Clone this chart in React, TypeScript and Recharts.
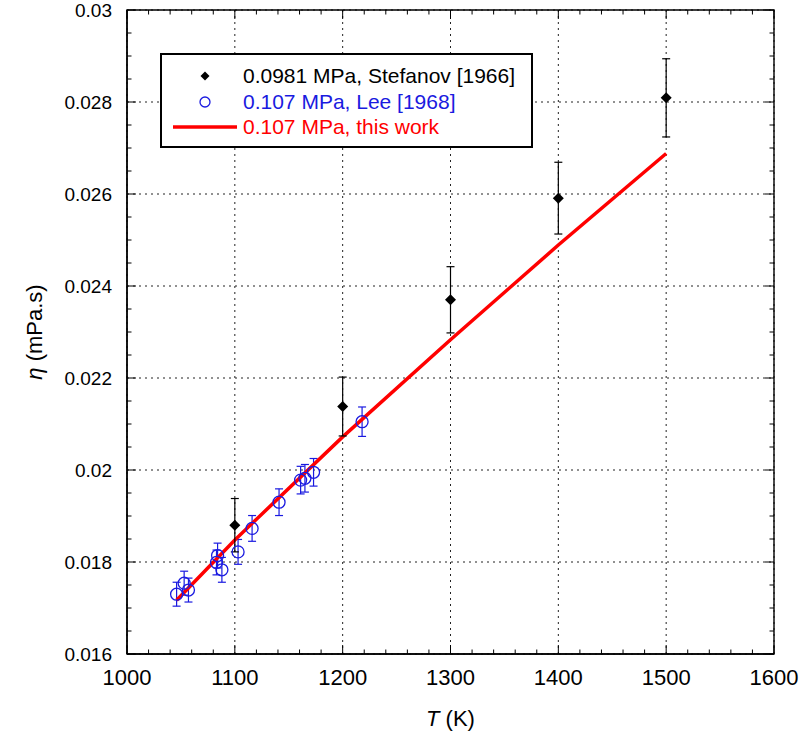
import React from 'react';
import { ComposedChart, XAxis, YAxis, Scatter, Line, ErrorBar, CartesianGrid, ReferenceDot, ReferenceArea } from 'recharts';

// Stefanov [1966], 0.0981 MPa
const stefanovT = [1100, 1200, 1300, 1400, 1500];
const stefanovEta = [0.0188, 0.02138, 0.0237, 0.02591, 0.02809];
const stefanovErr = [0.00058, 0.00064, 0.00072, 0.00078, 0.00085];

// Lee [1968], 0.107 MPa
const leeT = [1046, 1053, 1057, 1083, 1084, 1088, 1103, 1116, 1141, 1161, 1165, 1173, 1218];
const leeEta = [0.0173, 0.01754, 0.01739, 0.01799, 0.01814, 0.01783, 0.01822, 0.01873, 0.0193, 0.01978, 0.01982, 0.01995, 0.02105];
const leeErr = [0.00026, 0.00026, 0.00026, 0.00027, 0.00027, 0.00027, 0.00027, 0.00028, 0.00029, 0.0003, 0.0003, 0.0003, 0.00032];

// this work, 0.107 MPa
const modelT = [1046, 1100, 1200, 1300, 1400, 1500];
const modelEta = [0.01717, 0.01848, 0.02072, 0.02283, 0.02489, 0.02688];

const xMajor = [1000, 1100, 1200, 1300, 1400, 1500, 1600];
const xMinor = [1020, 1040, 1060, 1080, 1120, 1140, 1160, 1180, 1220, 1240, 1260, 1280, 1320, 1340, 1360, 1380, 1420, 1440, 1460, 1480, 1520, 1540, 1560, 1580];
const yMajor = [0.016, 0.018, 0.02, 0.022, 0.024, 0.026, 0.028, 0.03];
const yMinor = [0.0165, 0.017, 0.0175, 0.0185, 0.019, 0.0195, 0.0205, 0.021, 0.0215, 0.0225, 0.023, 0.0235, 0.0245, 0.025, 0.0255, 0.0265, 0.027, 0.0275, 0.0285, 0.029, 0.0295];

const legendLabels = ['0.0981 MPa, Stefanov [1966]', '0.107 MPa, Lee [1968]', '0.107 MPa, this work'];

const stefanovData = stefanovT.map((T, i) => ({ T, eta: stefanovEta[i], err: stefanovErr[i] }));
const leeData = leeT.map((T, i) => ({ T, eta: leeEta[i], err: leeErr[i] }));
const modelData = modelT.map((T, i) => ({ T, eta: modelEta[i] }));

const X_MIN = 1000, X_MAX = 1600, Y_MIN = 0.016, Y_MAX = 0.03;

const FONT = "'Liberation Sans', Arial, Helvetica, sans-serif";
const NARROW = "'Liberation Sans Narrow', 'Liberation Sans', Arial, sans-serif";
const BLUE = '#1a1ae0';

const Diamond = (props: any) => {
  const { cx, cy } = props;
  if (cx == null || cy == null) return null;
  const s = 5.5;
  return <path d={`M${cx},${cy - s}L${cx + s},${cy}L${cx},${cy + s}L${cx - s},${cy}Z`} fill="#000" />;
};

const Ring = (props: any) => {
  const { cx, cy } = props;
  if (cx == null || cy == null) return null;
  return <circle cx={cx} cy={cy} r={6} fill="none" stroke={BLUE} strokeWidth={1.3} />;
};

// tick mark drawn inward from an axis point; dx/dy = direction * length
const tickShape = (dx: number, dy: number) => (props: any) => {
  const { cx, cy } = props;
  if (cx == null || cy == null) return <g />;
  return <line x1={cx} y1={cy} x2={cx + dx} y2={cy + dy} stroke="#000" strokeWidth={1} />;
};

const XTitle = (props: any) => {
  const vb = props.viewBox || { x: 127, y: 654, width: 647, height: 84 };
  const cx = vb.x + vb.width / 2;
  return (
    <text x={cx} y={vb.y + 72} textAnchor="middle" fontSize={22} fontFamily={NARROW} fill="#000">
      <tspan fontStyle="italic">T</tspan>
      <tspan> (K)</tspan>
    </text>
  );
};

const YTitle = (props: any) => {
  const vb = props.viewBox || { x: 0, y: 10, width: 127, height: 644 };
  const cx = 34;
  const cy = vb.y + vb.height / 2;
  return (
    <text x={cx} y={cy} transform={`rotate(-90, ${cx}, ${cy})`} textAnchor="middle" dominantBaseline="central" fontSize={22} fontFamily={FONT} fill="#000">
      <tspan fontStyle="italic">η</tspan>
      <tspan> (mPa.s)</tspan>
    </text>
  );
};

const axisStroke = { stroke: '#000', strokeWidth: 1.4 };

const MAJ = 9;
const MIN = 4.5;

export default function App() {
  const tickDots: React.ReactNode[] = [];
  xMajor.forEach((t) => {
    tickDots.push(<ReferenceDot key={`xb${t}`} x={t} y={Y_MIN} ifOverflow="visible" shape={tickShape(0, -MAJ)} />);
    tickDots.push(<ReferenceDot key={`xt${t}`} x={t} y={Y_MAX} ifOverflow="visible" shape={tickShape(0, MAJ)} />);
  });
  xMinor.forEach((t) => {
    tickDots.push(<ReferenceDot key={`xbm${t}`} x={t} y={Y_MIN} ifOverflow="visible" shape={tickShape(0, -MIN)} />);
    tickDots.push(<ReferenceDot key={`xtm${t}`} x={t} y={Y_MAX} ifOverflow="visible" shape={tickShape(0, MIN)} />);
  });
  yMajor.forEach((v) => {
    tickDots.push(<ReferenceDot key={`yl${v}`} x={X_MIN} y={v} ifOverflow="visible" shape={tickShape(MAJ, 0)} />);
    tickDots.push(<ReferenceDot key={`yr${v}`} x={X_MAX} y={v} ifOverflow="visible" shape={tickShape(-MAJ, 0)} />);
  });
  yMinor.forEach((v) => {
    tickDots.push(<ReferenceDot key={`ylm${v}`} x={X_MIN} y={v} ifOverflow="visible" shape={tickShape(MIN, 0)} />);
    tickDots.push(<ReferenceDot key={`yrm${v}`} x={X_MAX} y={v} ifOverflow="visible" shape={tickShape(-MIN, 0)} />);
  });

  return (
    <div style={{ position: 'absolute', left: 0, top: 0, width: 800, height: 738, background: '#fff' }}>
      <ComposedChart width={800} height={738} margin={{ top: 10, right: 26, bottom: 0, left: 0 }}>
        <CartesianGrid stroke="#222" strokeDasharray="2 4" strokeWidth={1} />
        <XAxis
          type="number"
          dataKey="T"
          domain={[X_MIN, X_MAX]}
          ticks={xMajor}
          interval={0}
          height={84}
          tickLine={false}
          tickSize={0}
          tickMargin={15}
          axisLine={axisStroke}
          tick={{ fill: '#000', fontSize: 22, fontFamily: NARROW }}
          label={<XTitle />}
        />
        <YAxis
          type="number"
          dataKey="eta"
          domain={[Y_MIN, Y_MAX]}
          ticks={yMajor}
          interval={0}
          width={127}
          tickLine={false}
          tickSize={0}
          tickMargin={15}
          axisLine={axisStroke}
          tick={{ fill: '#000', fontSize: 19, fontFamily: FONT }}
          label={<YTitle />}
        />
        <ReferenceArea x1={X_MIN} x2={X_MAX} y1={Y_MIN} y2={Y_MAX} fill="none" fillOpacity={0} stroke="#000" strokeWidth={1.4} ifOverflow="visible" />
        {tickDots}
        <Scatter data={leeData} dataKey="eta" shape={<Ring />} isAnimationActive={false}>
          <ErrorBar dataKey="err" direction="y" width={4} stroke={BLUE} strokeWidth={1.2} />
        </Scatter>
        <Line data={modelData} dataKey="eta" type="linear" stroke="#ff0000" strokeWidth={3.5} dot={false} activeDot={false} isAnimationActive={false} />
        <Scatter data={stefanovData} dataKey="eta" shape={<Diamond />} isAnimationActive={false}>
          <ErrorBar dataKey="err" direction="y" width={4} stroke="#000" strokeWidth={1.2} />
        </Scatter>
      </ComposedChart>
      <div
        style={{
          position: 'absolute',
          left: 160,
          top: 53,
          width: 373,
          height: 95,
          boxSizing: 'border-box',
          border: '2px solid #000',
          background: '#fff',
          fontFamily: FONT,
          fontSize: 21,
        }}
      >
        <svg style={{ position: 'absolute', left: 0, top: 0 }} width={369} height={91}>
          <path d="M43,16.5L47.5,21L43,25.5L38.5,21Z" fill="#000" />
          <circle cx={43} cy={47} r={5} fill="none" stroke={BLUE} strokeWidth={1.3} />
          <line x1={11} y1={72} x2={75} y2={72} stroke="#ff0000" strokeWidth={3.5} />
        </svg>
        <div style={{ position: 'absolute', left: 81, top: 9, lineHeight: '24px', color: '#000', whiteSpace: 'nowrap' }}>{legendLabels[0]}</div>
        <div style={{ position: 'absolute', left: 81, top: 35, lineHeight: '24px', color: BLUE, whiteSpace: 'nowrap' }}>{legendLabels[1]}</div>
        <div style={{ position: 'absolute', left: 81, top: 60, lineHeight: '24px', color: '#ff0000', whiteSpace: 'nowrap' }}>{legendLabels[2]}</div>
      </div>
    </div>
  );
}
